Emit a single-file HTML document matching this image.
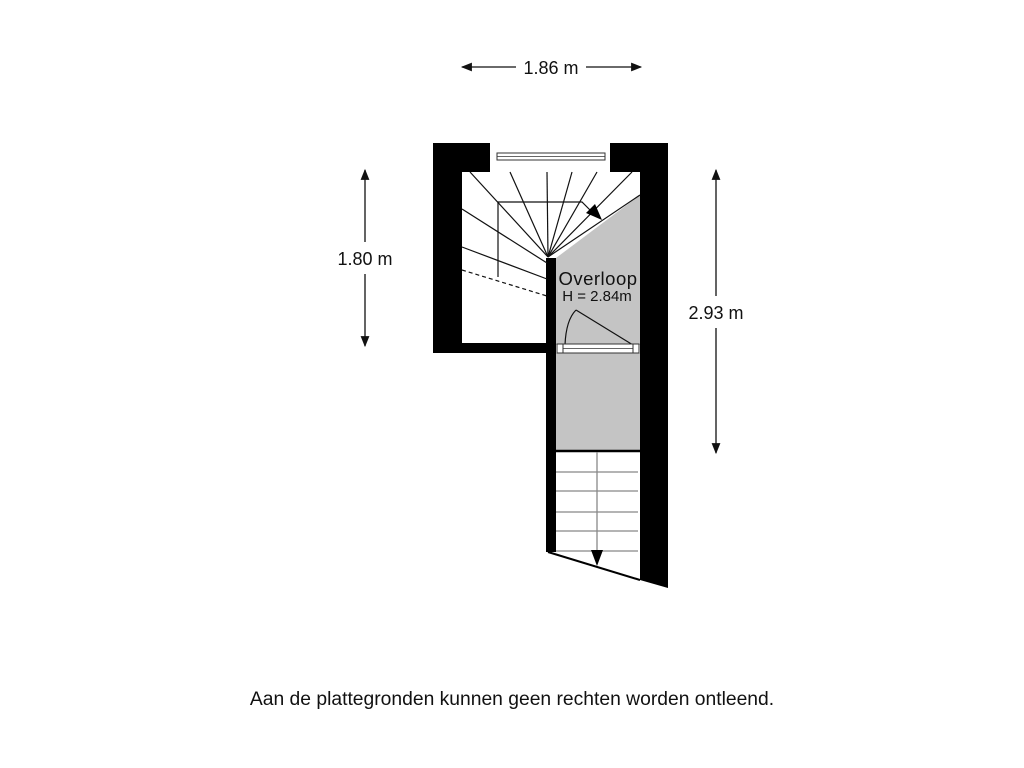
<!DOCTYPE html>
<html><head><meta charset="utf-8"><style>
html,body{margin:0;padding:0;background:#fff;}
svg{display:block;}
text{font-family:"Liberation Sans",Arial,sans-serif;fill:#111;}
</style></head><body>
<svg width="1024" height="768" viewBox="0 0 1024 768" xmlns="http://www.w3.org/2000/svg">
<defs>
<marker id="ah" viewBox="0 0 10 10" refX="9" refY="5" markerWidth="12" markerHeight="11" orient="auto-start-reverse" markerUnits="userSpaceOnUse">
<path d="M0,1 L10,5 L0,9 Z" fill="#111"/></marker>
</defs>
<line x1="462" y1="67" x2="516" y2="67" stroke="#111" stroke-width="1.3" marker-start="url(#ah)"/>
<line x1="586" y1="67" x2="641" y2="67" stroke="#111" stroke-width="1.3" marker-end="url(#ah)"/>
<text x="551" y="74" font-size="18" text-anchor="middle">1.86 m</text>
<line x1="365" y1="170" x2="365" y2="242" stroke="#111" stroke-width="1.3" marker-start="url(#ah)"/>
<line x1="365" y1="274" x2="365" y2="346" stroke="#111" stroke-width="1.3" marker-end="url(#ah)"/>
<text x="365" y="265" font-size="18" text-anchor="middle">1.80 m</text>
<line x1="716" y1="170" x2="716" y2="296" stroke="#111" stroke-width="1.3" marker-start="url(#ah)"/>
<line x1="716" y1="328" x2="716" y2="453" stroke="#111" stroke-width="1.3" marker-end="url(#ah)"/>
<text x="716" y="319" font-size="18" text-anchor="middle">2.93 m</text>

<polygon points="556,258 640,195 640,345 556,345" fill="#c4c4c4"/>
<rect x="556" y="353" width="84" height="97" fill="#c4c4c4"/>
<rect x="433" y="143" width="57" height="29" fill="#000"/>
<rect x="610" y="143" width="58" height="29" fill="#000"/>
<rect x="433" y="143" width="29" height="210" fill="#000"/>
<rect x="433" y="343" width="123" height="10" fill="#000"/>
<rect x="546" y="258" width="10" height="294" fill="#000"/>
<polygon points="640,143 668,143 668,588 640,580" fill="#000"/>
<rect x="497" y="153" width="108" height="7" fill="#fff" stroke="#333" stroke-width="1"/>
<line x1="497" y1="156.5" x2="605" y2="156.5" stroke="#333" stroke-width="0.8"/>
<g stroke="#111" stroke-width="1.2" fill="none">
<line x1="548" y1="257" x2="470" y2="172"/>
<line x1="548" y1="257" x2="510" y2="172"/>
<line x1="548" y1="257" x2="547" y2="172"/>
<line x1="548" y1="257" x2="572" y2="172"/>
<line x1="548" y1="257" x2="597" y2="172"/>
<line x1="548" y1="257" x2="632" y2="172"/>
<line x1="548" y1="257" x2="640" y2="195"/>
<line x1="462" y1="209" x2="547" y2="263"/>
<line x1="462" y1="247" x2="547" y2="279"/>
<line x1="462" y1="270" x2="547" y2="296" stroke-dasharray="4,3"/>
<polyline points="498,277 498,202 582,202 592,212"/>
</g>
<polygon points="602,220 586,213 595,204" fill="#000"/>
<line x1="576" y1="310" x2="633" y2="345" stroke="#111" stroke-width="1.2"/>
<path d="M565,345 Q566,320 576,310" stroke="#111" stroke-width="1.2" fill="none"/>
<rect x="557" y="344" width="82" height="9" fill="#fff" stroke="#333" stroke-width="1"/>
<line x1="563" y1="348.5" x2="633" y2="348.5" stroke="#333" stroke-width="0.8"/>
<rect x="557" y="344" width="6" height="9" fill="#fff" stroke="#333"/>
<rect x="633" y="344" width="6" height="9" fill="#fff" stroke="#333"/>
<line x1="556" y1="451" x2="640" y2="451" stroke="#000" stroke-width="2.5"/>
<g stroke="#888" stroke-width="1.3">
<line x1="556" y1="472" x2="638" y2="472"/>
<line x1="556" y1="491" x2="638" y2="491"/>
<line x1="556" y1="512" x2="638" y2="512"/>
<line x1="556" y1="531" x2="638" y2="531"/>
<line x1="556" y1="551" x2="638" y2="551"/>
<line x1="597" y1="452" x2="597" y2="552"/>
</g>
<line x1="548" y1="552" x2="640" y2="580" stroke="#000" stroke-width="2"/>
<polygon points="591,550 603,550 597,566" fill="#000"/>
<text x="598" y="285" font-size="18.5" text-anchor="middle" letter-spacing="0.5">Overloop</text>
<text x="597" y="301" font-size="15" text-anchor="middle">H = 2.84m</text>
<text x="512" y="705" font-size="19.3" text-anchor="middle">Aan de plattegronden kunnen geen rechten worden ontleend.</text>
</svg>
</body></html>
